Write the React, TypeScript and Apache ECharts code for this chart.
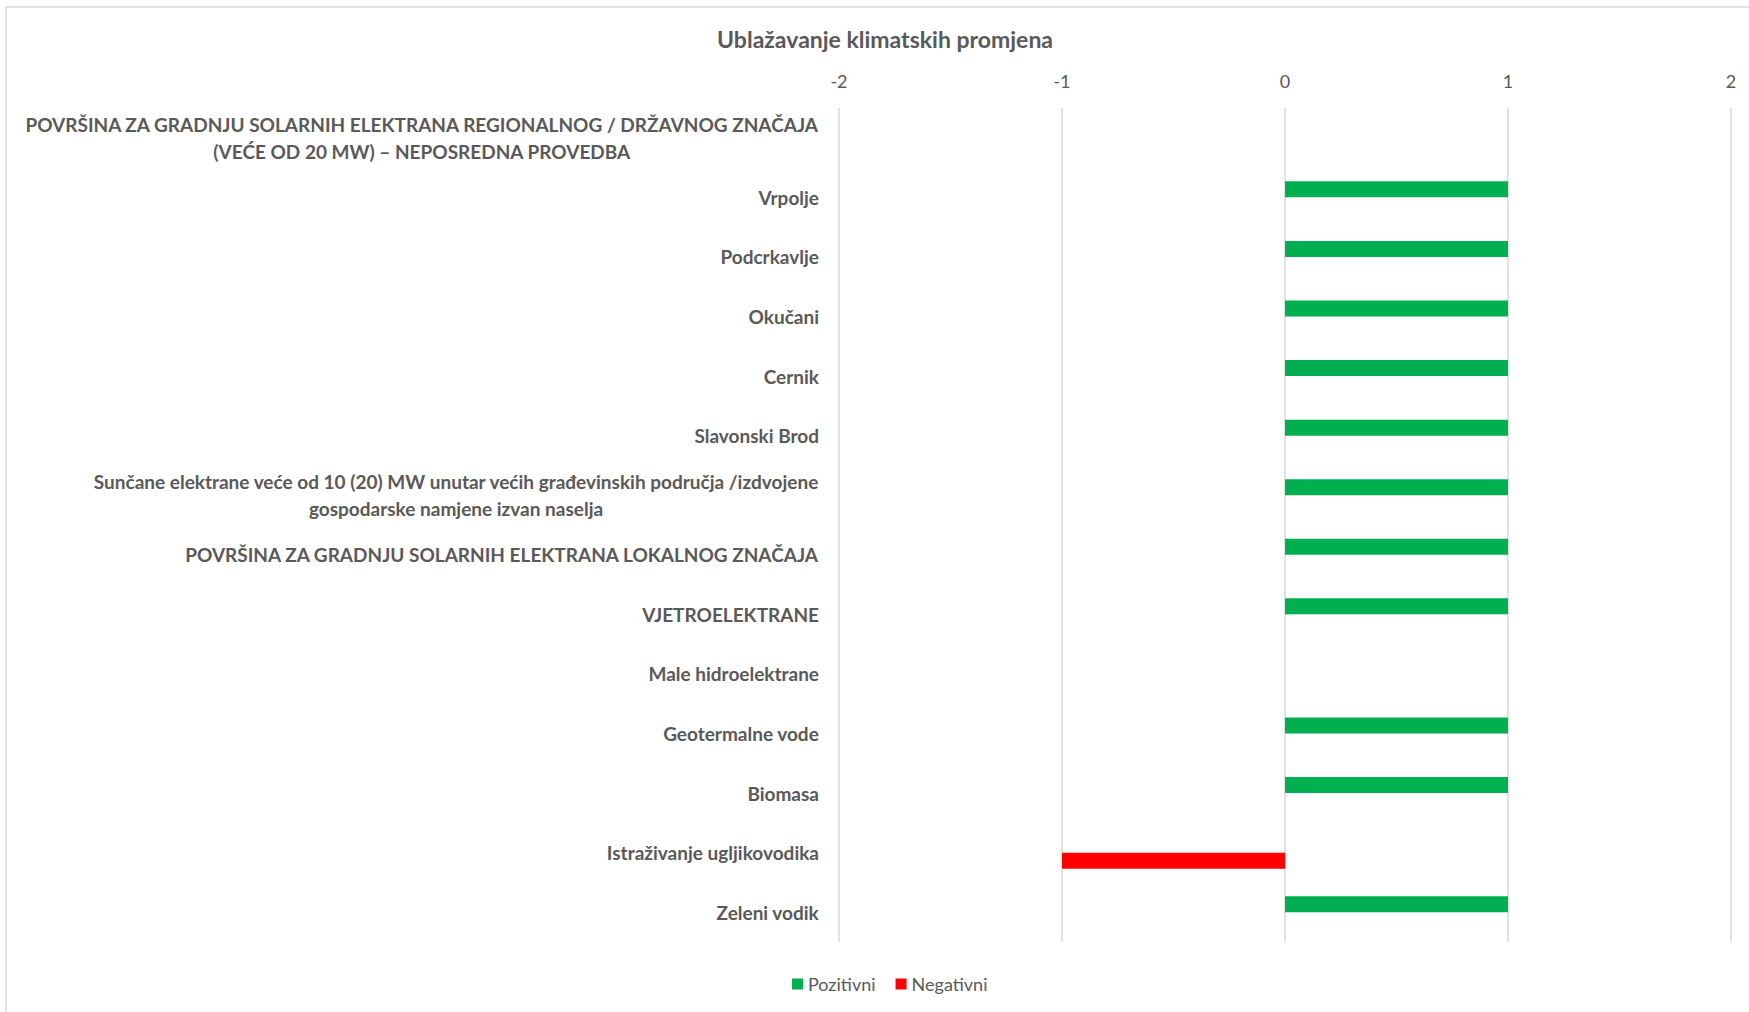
import React, { useEffect, useRef } from "react";
import * as echarts from "echarts";

const categories: string[] = [
  "POVRŠINA ZA GRADNJU SOLARNIH ELEKTRANA REGIONALNOG / DRŽAVNOG ZNAČAJA\n(VEĆE OD 20 MW) – NEPOSREDNA PROVEDBA",
  "Vrpolje",
  "Podcrkavlje",
  "Okučani",
  "Cernik",
  "Slavonski Brod",
  "Sunčane elektrane veće od 10 (20) MW unutar većih građevinskih područja /izdvojene\ngospodarske namjene izvan naselja",
  "POVRŠINA ZA GRADNJU SOLARNIH ELEKTRANA LOKALNOG ZNAČAJA",
  "VJETROELEKTRANE",
  "Male hidroelektrane",
  "Geotermalne vode",
  "Biomasa",
  "Istraživanje ugljikovodika",
  "Zeleni vodik",
];

const pozitivni: (number | null)[] = [null, 1, 1, 1, 1, 1, 1, 1, 1, null, 1, 1, null, 1];
const negativni: (number | null)[] = [null, null, null, null, null, null, null, null, null, null, null, null, -1, null];

const xTicks = { min: -2, max: 2, interval: 1 };

const TITLE = "Ublažavanje klimatskih promjena";
const SERIES_NAMES = ["Pozitivni", "Negativni"];

const FONT = "Lato, 'Open Sans', sans-serif";
const TEXT = "#595959";

export default function App() {
  const ref = useRef<HTMLDivElement>(null);
  useEffect(() => {
    if (!ref.current) return;
    const chart = echarts.init(ref.current, null, { renderer: "svg" });
    chart.setOption({
      animation: false,
      backgroundColor: "#ffffff",
      graphic: [
        {
          type: "rect",
          shape: { x: 6, y: 7, width: 1900, height: 1200 },
          style: { fill: "none", stroke: "#d9d9d9", lineWidth: 1.5 },
          silent: true,
          z: -1,
        },
        {
          type: "text",
          x: 885,
          y: 39,
          style: {
            text: TITLE,
            align: "center",
            verticalAlign: "middle",
            fill: TEXT,
            fontSize: 23,
            fontWeight: "bold",
            fontFamily: FONT,
          },
        },
      ],
      grid: {
        left: 839,
        right: 18,
        top: 108,
        bottom: 70,
        containLabel: false,
        outerBoundsMode: "none",
      },
      legend: {
        data: SERIES_NAMES,
        left: 787,
        top: 970,
        icon: "rect",
        itemWidth: 11,
        itemHeight: 11,
        itemGap: 20,
        textStyle: { fontSize: 18, color: TEXT, fontFamily: FONT },
      },
      xAxis: {
        type: "value",
        position: "top",
        min: xTicks.min,
        max: xTicks.max,
        interval: xTicks.interval,
        axisLine: { show: false },
        axisTick: { show: false },
        splitLine: { show: true, lineStyle: { color: "#d9d9d9", width: 1.5 } },
        axisLabel: { fontSize: 18, color: TEXT, fontFamily: FONT, margin: 18 },
      },
      yAxis: {
        type: "category",
        inverse: true,
        data: categories,
        axisLine: { show: false },
        axisTick: { show: false },
        splitLine: { show: false },
        axisLabel: {
          margin: 20,
          color: TEXT,
          fontSize: 19,
          fontWeight: "bold",
          fontFamily: FONT,
          formatter: (v: string) =>
            v
              .split("\n")
              .map((l) => `{c|${l}}`)
              .join("\n"),
          rich: {
            c: {
              align: "center",
              color: TEXT,
              fontSize: 19,
              fontWeight: "bold",
              fontFamily: FONT,
              lineHeight: 27,
            },
          },
        },
      },
      series: [
        {
          name: SERIES_NAMES[0],
          type: "bar",
          data: pozitivni,
          barWidth: 16,
          barGap: "0%",
          itemStyle: { color: "#00B050" },
        },
        {
          name: SERIES_NAMES[1],
          type: "bar",
          data: negativni,
          barWidth: 16,
          barGap: "0%",
          itemStyle: { color: "#FF0000" },
        },
      ],
    });
    return () => chart.dispose();
  }, []);
  return (
    <div
      ref={ref}
      style={{ position: "fixed", left: 0, top: 0, width: 1749, height: 1012 }}
    />
  );
}
